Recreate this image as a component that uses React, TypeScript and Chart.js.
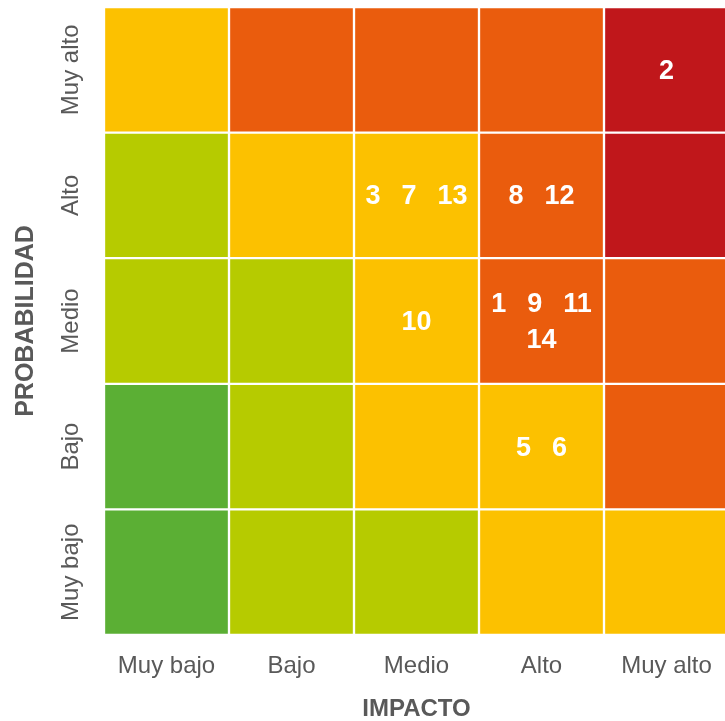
import React, { useEffect, useRef } from "react";
import { Chart, registerables } from "chart.js";

Chart.register(...registerables);

// ---- Data ----
const impactLabels = ["Muy bajo", "Bajo", "Medio", "Alto", "Muy alto"];
// probability levels listed bottom -> top
const probabilityLabels = ["Muy bajo", "Bajo", "Medio", "Alto", "Muy alto"];

const GREEN = "#5BAF34";
const LIME = "#B6CB00";
const YELLOW = "#FCC100";
const ORANGE = "#EA5C0D";
const RED = "#C0171B";

// colour of each cell, one row per probability level (bottom -> top), columns by impact
const rowMuyBajo = [GREEN, LIME, LIME, YELLOW, YELLOW];
const rowBajo = [GREEN, LIME, YELLOW, YELLOW, ORANGE];
const rowMedio = [LIME, LIME, YELLOW, ORANGE, ORANGE];
const rowAlto = [LIME, YELLOW, YELLOW, ORANGE, RED];
const rowMuyAlto = [YELLOW, ORANGE, ORANGE, ORANGE, RED];
const cellColorRows = [rowMuyBajo, rowBajo, rowMedio, rowAlto, rowMuyAlto];

// risk identifiers placed in cells
const riskImpact = ["Muy alto", "Medio", "Alto", "Medio", "Alto", "Alto"];
const riskProbability = ["Muy alto", "Alto", "Alto", "Medio", "Medio", "Bajo"];
const riskLines: string[][][] = [
  [["2"]],
  [["3", "7", "13"]],
  [["8", "12"]],
  [["10"]],
  [["1", "9", "11"], ["14"]],
  [["5", "6"]],
];

const FONT = "'Liberation Sans', Arial, Helvetica, sans-serif";
const GRAY = "#595959";

const overlayPlugin = {
  id: "riskOverlay",
  afterDatasetsDraw(chart: any) {
    const { ctx, scales } = chart;
    const xs = scales.x;
    const ys = scales.y;
    ctx.save();
    // y tick labels (rotated)
    ctx.fillStyle = GRAY;
    ctx.font = `24px ${FONT}`;
    ctx.textAlign = "center";
    ctx.textBaseline = "middle";
    probabilityLabels.forEach((lab, i) => {
      const y = ys.getPixelForValue(i + 0.5);
      ctx.save();
      ctx.translate(71, y);
      ctx.rotate(-Math.PI / 2);
      ctx.fillText(lab, 0, 0);
      ctx.restore();
    });
    // risk numbers
    ctx.fillStyle = "#FFFFFF";
    ctx.font = `bold 27px ${FONT}`;
    ctx.textAlign = "left";
    const gap = 21;
    const lineGap = 36;
    riskLines.forEach((lines, k) => {
      const cx = xs.getPixelForValue(impactLabels.indexOf(riskImpact[k]));
      const cy = ys.getPixelForValue(probabilityLabels.indexOf(riskProbability[k]) + 0.5);
      const n = lines.length;
      lines.forEach((tokens, li) => {
        const widths = tokens.map((t) => ctx.measureText(t).width);
        const total = widths.reduce((a, b) => a + b, 0) + gap * (tokens.length - 1);
        let x = cx - total / 2;
        const y = cy + (li - (n - 1) / 2) * lineGap + 1.5;
        tokens.forEach((t, ti) => {
          ctx.fillText(t, x, y);
          x += widths[ti] + gap;
        });
      });
    });
    ctx.restore();
  },
};

export default function App() {
  const canvasRef = useRef<HTMLCanvasElement | null>(null);

  useEffect(() => {
    const canvas = canvasRef.current;
    if (!canvas) return;
    const datasets = probabilityLabels.map((p, r) => ({
      label: p,
      data: impactLabels.map(() => 1),
      backgroundColor: cellColorRows[r],
      borderColor: "#FFFFFF",
      borderWidth: 1.5,
      borderSkipped: false as const,
      barPercentage: 1,
      categoryPercentage: 1,
    }));
    const chart = new Chart(canvas, {
      type: "bar",
      data: { labels: impactLabels, datasets },
      plugins: [overlayPlugin],
      options: {
        responsive: false,
        animation: false,
        events: [],
        layout: { padding: { top: 7, right: 1, left: 0, bottom: 0 } },
        plugins: {
          legend: { display: false },
          tooltip: { enabled: false },
        },
        scales: {
          x: {
            type: "category",
            stacked: true,
            offset: true,
            grid: { display: false, drawTicks: false },
            border: { display: false },
            ticks: {
              color: GRAY,
              font: { family: FONT, size: 24 },
              padding: 17,
            },
            title: {
              display: true,
              text: "IMPACTO",
              color: GRAY,
              font: { family: FONT, size: 24, weight: "bold", lineHeight: 0.95 },
              padding: { top: 0, bottom: 0 },
            },
            afterFit(scale: any) {
              scale.height = 86;
            },
          },
          y: {
            type: "linear",
            stacked: true,
            min: 0,
            max: 5,
            grid: { display: false, drawTicks: false },
            border: { display: false },
            ticks: { display: false },
            title: {
              display: true,
              text: "PROBABILIDAD",
              color: GRAY,
              font: { family: FONT, size: 25, weight: "bold" },
              padding: { top: 11, bottom: 0 },
            },
            afterFit(scale: any) {
              scale.width = 104;
            },
          },
        },
      },
    });
    return () => chart.destroy();
  }, []);

  return (
    <div
      style={{
        position: "fixed",
        left: 0,
        top: 0,
        width: 725,
        height: 721,
        overflow: "hidden",
        background: "#FFFFFF",
      }}
    >
      <canvas ref={canvasRef} width={730} height={721} style={{ width: 730, height: 721, display: "block" }} />
    </div>
  );
}
